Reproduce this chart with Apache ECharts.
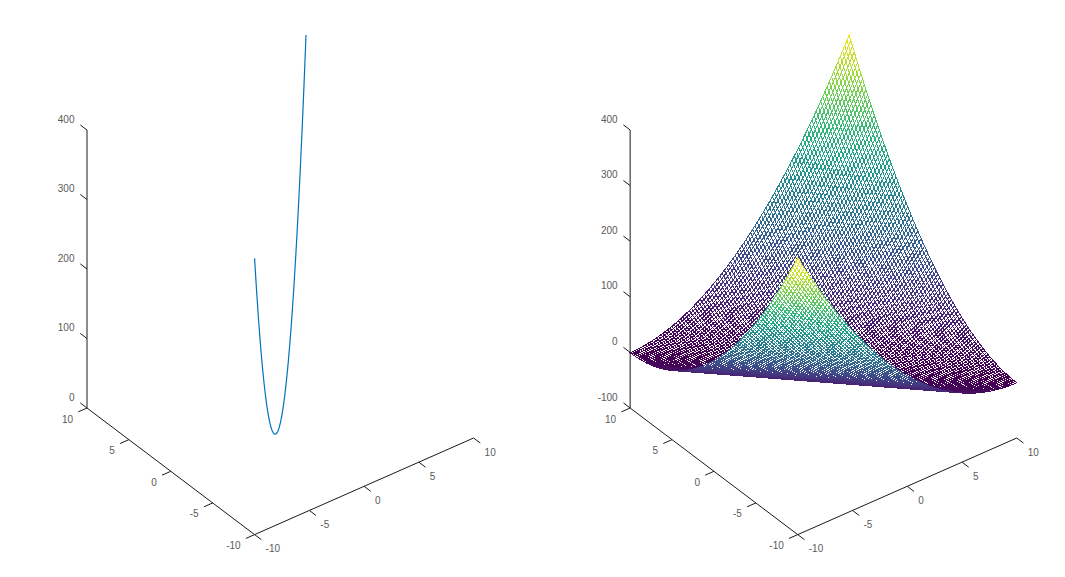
<!DOCTYPE html>
<html><head><meta charset="utf-8">
<style>
html,body{margin:0;padding:0;background:#fff}
#c{width:1065px;height:577px}
#c svg path[fill="#fff"],#c svg path[fill="white"],#c svg path[fill="rgb(255,255,255)"]{shape-rendering:crispEdges}
</style>
<script src="https://cdn.jsdelivr.net/npm/echarts@6/dist/echarts.min.js"></script>
</head><body><div id="c"></div>
<script>
// ---- data ----
const xyTicks = [-10, -5, 0, 5, 10];
const zTicksLeft = [0, 100, 200, 300, 400];
const zTicksRight = [-100, 0, 100, 200, 300, 400];
const gridAxis = [-10,-9.8,-9.6,-9.4,-9.2,-9,-8.8,-8.6,-8.4,-8.2,-8,-7.8,-7.6,-7.4,-7.2,-7,-6.8,-6.6,-6.4,-6.2,-6,-5.8,-5.6,-5.4,-5.2,-5,-4.8,-4.6,-4.4,-4.2,-4,-3.8,-3.6,-3.4,-3.2,-3,-2.8,-2.6,-2.4,-2.2,-2,-1.8,-1.6,-1.4,-1.2,-1,-0.8,-0.6,-0.4,-0.2,0,0.2,0.4,0.6,0.8,1,1.2,1.4,1.6,1.8,2,2.2,2.4,2.6,2.8,3,3.2,3.4,3.6,3.8,4,4.2,4.4,4.6,4.8,5,5.2,5.4,5.6,5.8,6,6.2,6.4,6.6,6.8,7,7.2,7.4,7.6,7.8,8,8.2,8.4,8.6,8.8,9,9.2,9.4,9.6,9.8,10];
// surface height for each grid position across the ridge (index = column + row)
const heightProfile = [400,392.04,384.16,376.36,368.64,361,353.44,345.96,338.56,331.24,324,316.84,309.76,302.76,295.84,289,282.24,275.56,268.96,262.44,256,249.64,243.36,237.16,231.04,225,219.04,213.16,207.36,201.64,196,190.44,184.96,179.56,174.24,169,163.84,158.76,153.76,148.84,144,139.24,134.56,129.96,125.44,121,116.64,112.36,108.16,104.04,100,96.04,92.16,88.36,84.64,81,77.44,73.96,70.56,67.24,64,60.84,57.76,54.76,51.84,49,46.24,43.56,40.96,38.44,36,33.64,31.36,29.16,27.04,25,23.04,21.16,19.36,17.64,16,14.44,12.96,11.56,10.24,9,7.84,6.76,5.76,4.84,4,3.24,2.56,1.96,1.44,1,0.64,0.36,0.16,0.04,0,0.04,0.16,0.36,0.64,1,1.44,1.96,2.56,3.24,4,4.84,5.76,6.76,7.84,9,10.24,11.56,12.96,14.44,16,17.64,19.36,21.16,23.04,25,27.04,29.16,31.36,33.64,36,38.44,40.96,43.56,46.24,49,51.84,54.76,57.76,60.84,64,67.24,70.56,73.96,77.44,81,84.64,88.36,92.16,96.04,100,104.04,108.16,112.36,116.64,121,125.44,129.96,134.56,139.24,144,148.84,153.76,158.76,163.84,169,174.24,179.56,184.96,190.44,196,201.64,207.36,213.16,219.04,225,231.04,237.16,243.36,249.64,256,262.44,268.96,275.56,282.24,289,295.84,302.76,309.76,316.84,324,331.24,338.56,345.96,353.44,361,368.64,376.36,384.16,392.04,400];
const viridis = [[68,1,84],[72,40,120],[62,73,137],[49,104,142],[38,130,142],[31,158,137],[53,183,121],[110,206,88],[181,222,43],[253,231,37]];
const curveColor = '#0072BD';

// ---- view (orthographic projection, pixels per data unit) ----
const view = {ux: 10.95, uy: -8.38, vx: -4.83, vy: -6.33};
const panelLeft = {cu: 280.3, cv: 423, zMin: 0, zScale: 0.691, axisScale: 0.695, zTicks: zTicksLeft};
const panelRight = {cu: 823.45, cv: 423, zMin: -100, zScale: 0.553, axisScale: 0.556, zTicks: zTicksRight};
const TICK = 0.8, MIN = -10, MAX = 10;

function project(p, x, y, z, scale) {
  return [p.cu + view.ux * x + view.uy * y,
          p.cv + view.vx * x + view.vy * y - (z - p.zMin) * (scale || p.zScale)];
}
function colorAt(z) {
  const t = Math.max(0, Math.min(1, z / 400)) * (viridis.length - 1);
  const k = Math.min(viridis.length - 2, Math.floor(t)), f = t - k;
  const a = viridis[k], b = viridis[k + 1];
  return 'rgb(' + a.map((v, n) => Math.round(v + (b[n] - v) * f)).join(',') + ')';
}

function frameSegments(p) {
  const s = [];
  const top = p.zTicks[p.zTicks.length - 1];
  s.push([MIN, MIN, p.zMin, MAX, MIN, p.zMin]);
  s.push([MIN, MIN, p.zMin, MIN, MAX, p.zMin]);
  s.push([MIN, MAX, p.zMin, MIN, MAX, top]);
  xyTicks.forEach(t => {
    s.push([t, MIN, p.zMin, t, MIN - TICK, p.zMin]);
    s.push([MIN, t, p.zMin, MIN - TICK, t, p.zMin]);
  });
  p.zTicks.forEach(t => s.push([MIN, MAX, t, MIN, MAX + TICK, t]));
  return s;
}
function frameSeries(p, idx) {
  const segs = frameSegments(p);
  return {
    type: 'custom', coordinateSystem: 'cartesian2d', xAxisIndex: idx, yAxisIndex: idx,
    silent: true, clip: false, animation: false, progressive: 0, z: 5,
    data: segs.map((_, i) => [i]),
    renderItem(params, api) {
      const g = segs[params.dataIndex];
      const a = api.coord(project(p, g[0], g[1], g[2], p.axisScale));
      const b = api.coord(project(p, g[3], g[4], g[5], p.axisScale));
      return {type: 'line', shape: {x1: a[0], y1: a[1], x2: b[0], y2: b[1]},
              style: {stroke: '#1a1a1a', lineWidth: 1, fill: null}};
    }
  };
}
function labelSeries(p, idx) {
  const L = [];
  xyTicks.forEach(t => {
    L.push({text: String(t), at: project(p, t, MIN, p.zMin, p.axisScale), dx: 11, dy: 14, align: 'left'});
    L.push({text: String(t), at: project(p, MIN, t, p.zMin, p.axisScale), dx: -14, dy: 11, align: 'right'});
  });
  p.zTicks.forEach(t => L.push({text: String(t), at: project(p, MIN, MAX, t, p.axisScale), dx: -12.5, dy: -11, align: 'right'}));
  return {
    type: 'custom', coordinateSystem: 'cartesian2d', xAxisIndex: idx, yAxisIndex: idx,
    silent: true, clip: false, animation: false, progressive: 0, z: 6,
    data: L.map((_, i) => [i]),
    renderItem(params, api) {
      const l = L[params.dataIndex];
      const c = api.coord(l.at);
      return {type: 'text', x: c[0] + l.dx, y: c[1] + l.dy,
              style: {text: l.text, fill: '#5a5a5a', font: '10px "Liberation Sans"',
                      textAlign: l.align, textVerticalAlign: 'middle'}};
    }
  };
}

// quads painted from the far corner to the near corner
const quads = [];
for (let i = gridAxis.length - 2; i >= 0; i--)
  for (let j = gridAxis.length - 2; j >= 0; j--) quads.push([i, j]);

const curve = gridAxis.map((t, i) => project(panelLeft, t, t, heightProfile[2 * i]));

const hidden = {show: false};
function axes(grid, w) {
  return {
    x: {type: 'value', gridIndex: grid, min: 0, max: w, show: false, axisLine: hidden, splitLine: hidden},
    y: {type: 'value', gridIndex: grid, min: 0, max: 577, inverse: true, show: false, axisLine: hidden, splitLine: hidden}
  };
}
const a0 = axes(0, 1065), a1 = axes(1, 1065);

const chart = echarts.init(document.getElementById('c'), null, {renderer: 'svg', width: 1065, height: 577});
chart.setOption({
  animation: false,
  backgroundColor: '#fff',
  grid: [{left: 0, top: 0, width: 1065, height: 577}, {left: 0, top: 0, width: 1065, height: 577}],
  xAxis: [a0.x, a1.x],
  yAxis: [a0.y, a1.y],
  series: [
    frameSeries(panelLeft, 0),
    labelSeries(panelLeft, 0),
    {type: 'line', xAxisIndex: 0, yAxisIndex: 0, data: curve, showSymbol: false, silent: true, clip: false,
     lineStyle: {color: curveColor, width: 1.2}, z: 7},
    frameSeries(panelRight, 1),
    labelSeries(panelRight, 1),
    {
      type: 'custom', coordinateSystem: 'cartesian2d', xAxisIndex: 1, yAxisIndex: 1,
      silent: true, clip: false, animation: false, progressive: 0, z: 7,
      data: quads,
      renderItem(params, api) {
        const q = quads[params.dataIndex], i = q[0], j = q[1];
        const pt = (a, b) => api.coord(project(panelRight, gridAxis[a], gridAxis[b], heightProfile[a + b]));
        return {type: 'polygon',
                shape: {points: [pt(i, j), pt(i + 1, j), pt(i + 1, j + 1), pt(i, j + 1)]},
                style: {fill: '#fff', stroke: colorAt(heightProfile[i + j + 1]), lineWidth: 1}};
      }
    }
  ]
});
</script></body></html>
